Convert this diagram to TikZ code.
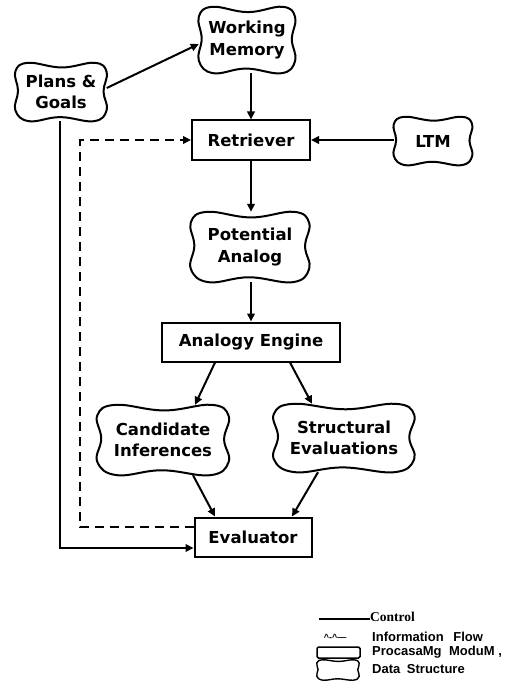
\documentclass[tikz,border=0pt]{standalone}
\usepackage{fontspec}
\setmainfont{DejaVu Sans}
\newfontfamily\legsans{Liberation Sans}
\newfontfamily\legserif{Liberation Serif}
\usetikzlibrary{arrows.meta,calc}
\newcommand\drawblob[2][blobline]{%
\draw[#1] let \p1=(#2.north east), \p2=(#2.center), \n1={\x1-\x2}, \n2={\y1-\y2} in
 plot[smooth cycle, tension=0.7] coordinates {
 (\x2-0.72*\n1,\y2+1.0*\n2) (\x2+0.02*\n1,\y2+0.84*\n2) (\x2+0.74*\n1,\y2+1.0*\n2)
 (\x2+1.0*\n1,\y2+0.68*\n2) (\x2+0.93*\n1,\y2+0.02*\n2) (\x2+1.0*\n1,\y2-0.62*\n2)
 (\x2+0.72*\n1,\y2-1.0*\n2) (\x2-0.02*\n1,\y2-0.86*\n2) (\x2-0.70*\n1,\y2-1.0*\n2)
 (\x2-1.0*\n1,\y2-0.62*\n2) (\x2-0.94*\n1,\y2+0.04*\n2) (\x2-1.0*\n1,\y2+0.7*\n2)
 };}
\tikzset{
 every node/.style={inner sep=0pt},
 mainfont/.style={font=\bfseries\fontsize{16.5}{21.5}\selectfont, align=center},
 procbox/.style={mainfont, draw, line width=2pt},
 blobnode/.style={mainfont},
 blobline/.style={line width=2pt, line join=round},
 ctrl/.style={line width=2pt, -{Triangle[length=8pt,width=7.5pt]}},
 info/.style={line width=2pt, dash pattern=on 9pt off 6pt, -{Triangle[length=8pt,width=7.5pt]}},
 legtext/.style={font=\legsans\bfseries\fontsize{13}{15}\selectfont, anchor=west},
}
\begin{document}
\begin{tikzpicture}[x=1pt,y=-1pt]
\useasboundingbox (0,0) rectangle (510,698);
% nodes
\node[blobnode, minimum width=96pt, minimum height=66pt] (wm) at (247,40) {Working\\Memory};
\node[blobnode, minimum width=91pt, minimum height=58pt] (pg) at (61,92) {Plans \&\\Goals};
\node[procbox, minimum width=118pt, minimum height=39pt] (ret) at (251,140) {Retriever};
\node[blobnode, minimum width=78pt, minimum height=48pt] (ltm) at (433,141) {LTM};
\node[blobnode, minimum width=118pt, minimum height=70pt] (pa) at (250,247) {Potential\\Analog};
\node[procbox, minimum width=178pt, minimum height=39pt] (ae) at (251,342) {Analogy Engine};
\node[blobnode, minimum width=131pt, minimum height=70pt] (ci) at (163,440) {Candidate\\Inferences};
\node[blobnode, minimum width=140pt, minimum height=68pt] (se) at (344,438) {Structural\\Evaluations};
\node[procbox, minimum width=117pt, minimum height=39pt] (ev) at (253,537) {Evaluator};
\foreach \b in {wm,pg,ltm,pa,ci,se} {\drawblob{\b}}
% connectors
\draw[ctrl] ([yshift=4pt]pg.east) -- ([yshift=-4pt]wm.west);
\draw[ctrl] (wm.south -| ret.north) -- (ret.north);
\draw[ctrl] (ret.east -| ltm.west) -- (ret.east);
\draw[ctrl] (ret.south) -- (ret.south |- pa.north);
\draw[ctrl] (pa.south -| ae.north) -- (ae.north);
\draw[ctrl] ([xshift=-36pt]ae.south) -- ([xshift=32pt]ci.north);
\draw[ctrl] ([xshift=39pt]ae.south) -- ([xshift=-32pt]se.north);
\draw[ctrl] ([xshift=30pt]ci.south) -- ([xshift=-38pt]ev.north);
\draw[ctrl] ([xshift=-26pt]se.south) -- ([xshift=39pt]ev.north);
\draw[ctrl] ([xshift=-1pt]pg.south) |- ([yshift=-11pt]ev.west);
\coordinate (dc) at (80,140);
\draw[info] ([yshift=10pt]ev.west) -| (dc) -- (ret.west);
% legend
\node[font=\legserif\bfseries\fontsize{13.5}{15}\selectfont, anchor=base west] (lctl) at (370,621) {Control};
\coordinate (lc1) at (319,619);
\draw[line width=1.4pt] (lc1) -- (lc1 -| lctl.west);
\node[font=\legsans\bfseries\fontsize{9}{10}\selectfont] (lsym) at (335,637) {\textasciicircum-\textasciicircum—};
\node[legtext] (linfo) at (372,637) {Information\hspace{6pt} Flow};
\node[draw, line width=1.5pt, rounded corners=1.5pt, minimum width=43pt, minimum height=11pt] (lbox) at (338.5,652.5) {};
\node[legtext] (lproc) at (372,652) {ProcasaMg\hspace{4pt} ModuM ,};
\node[minimum width=42pt, minimum height=20pt] (lblob) at (338,670) {};
\drawblob[line width=1.4pt, line join=round]{lblob}
\node[legtext] (ldata) at (372,669) {Data\hspace{3pt} Structure};
\end{tikzpicture}
\end{document}
